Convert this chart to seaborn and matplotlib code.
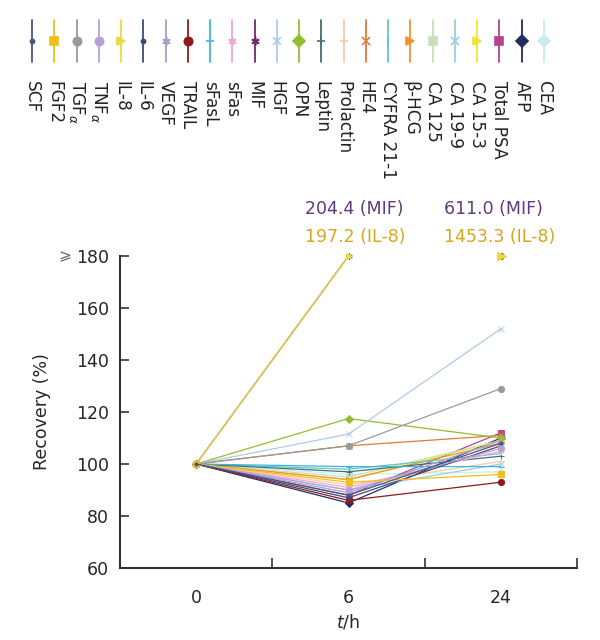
import matplotlib
matplotlib.use("Agg")
import matplotlib.pyplot as plt
import numpy as np
import pandas as pd
import seaborn as sns

# data (recovery %, at 0 / 6 / 24 h)
names = ['SCF', 'FGF2', r'TGF$_\alpha$', r'TNF$_\alpha$', 'IL-8', 'IL-6', 'VEGF', 'TRAIL',
         'sFasL', 'sFas', 'MIF', 'HGF', 'OPN', 'Leptin', 'Prolactin', 'HE4',
         'CYFRA 21-1', 'β-HCG', 'CA 125', 'CA 19-9', 'CA 15-3', 'Total PSA', 'AFP', 'CEA']
times = ['0', '6', '24']
rec_0h = [100] * 24
rec_6h = [88, 93, 107, 90, 197.2, 87, 89, 86, 99, 91, 204.4, 111.5,
          117.5, 97, 92, 107, 98, 94, 95, 90, 94, 88, 85, 96]
rec_24h = [108, 96, 129, 106, 1453.3, 107, 109, 93, 99, 105, 611.0, 152,
           110, 103, 101, 111, 104, 108, 109, 100, 109, 112, 110, 97]
y_cap = 180  # values above this are drawn at the top of the axis

colors = ['#4A5480', '#F2BE1A', '#9A9A9A', '#B7A0D8', '#EADB3A', '#3E4A7C', '#A49FCC', '#8E1B1B',
          '#3CB6DD', '#F2A6CF', '#6F2A6E', '#AFCBEA', '#93BD2E', '#3F7377', '#F7CBA8', '#E27B3A',
          '#63C6C4', '#F39327', '#C6E1B8', '#9ACFE0', '#F0E42E', '#B8448A', '#232C60', '#CCEBEE']
ast = (6, 2, 0)
markers = ['.', 's', 'o', 'o', '>', '.', ast, 'o',
           '_', ast, ast, 'x', 'D', '+', '+', 'x',
           '|', '>', 's', 'x', '>', 's', 'D', 'D']

sns.set_style("ticks")
plt.rcParams['font.family'] = ['DejaVu Sans']
plt.rcParams['text.color'] = '#222222'

# long table; a point after an already-capped point is drawn without a joining line
rows = []
for i, n in enumerate(names):
    prev_capped = False
    for t, v in zip(times, [rec_0h[i], rec_6h[i], rec_24h[i]]):
        rows.append({'marker': n, 't': t, 'rec': min(v, y_cap), 'alone': prev_capped})
        prev_capped = v > y_cap
df = pd.DataFrame(rows)
joined = df[~df['alone']]
alone = df[df['alone']]
pal = dict(zip(names, colors))
mk = dict(zip(names, markers))

# first series ends up on top, as in the original
draw_order = names[::-1]
lone_names = [n for n in draw_order if n in set(alone['marker'])]

fig = plt.figure(figsize=(6, 6.4), dpi=100)
ax = fig.add_axes([0.2, 0.1125, 0.7617, 0.4875])

sns.pointplot(data=joined, x='t', y='rec', hue='marker', order=times, hue_order=draw_order,
              palette=pal, markers=[mk[n] for n in draw_order], linestyles='-', dodge=False,
              errorbar=None, markersize=4.5, linewidth=0.9, legend=False,
              clip_on=False, ax=ax)
sns.pointplot(data=alone, x='t', y='rec', hue='marker', order=times, hue_order=lone_names,
              palette=pal, markers=[mk[n] for n in lone_names], linestyles='none',
              dodge=False, errorbar=None, markersize=4.5, legend=False,
              clip_on=False, ax=ax)

ax.set_xlim(-0.5, 2.5)
ax.set_ylim(60, 180)
ax.set_yticks(range(60, 181, 20))
ax.set_xticks([0, 1, 2])
ax.set_xticklabels(times)
ax.set_xticks([0.5, 1.5, 2.5], minor=True)
ax.tick_params(axis='x', which='major', length=0, pad=15, labelsize=12.5)
ax.tick_params(axis='x', which='minor', direction='in', length=7, width=1.2, color='#333333')
ax.tick_params(axis='y', direction='in', length=6.5, width=1.2, pad=8, labelsize=12.5,
               color='#333333')
for s in ['top', 'right']:
    ax.spines[s].set_visible(False)
for s in ['left', 'bottom']:
    ax.spines[s].set_linewidth(1.5)
    ax.spines[s].set_color('#333333')
ax.set_xlabel(r'$t$/h', fontsize=12.5, labelpad=4)
ax.set_ylabel('Recovery (%)', fontsize=12.5, labelpad=18)
ax.text(-0.12, 1.0, '⩾', transform=ax.transAxes, fontsize=11, color='#666666',
        ha='center', va='center')

# off-scale values written above the plot
ax.text(0.717, 198, '204.4 (MIF)', color='#5E3A7E', fontsize=12.5, va='center', clip_on=False)
ax.text(0.717, 187.5, '197.2 (IL-8)', color='#D9A521', fontsize=12.5, va='center', clip_on=False)
ax.text(1.63, 198, '611.0 (MIF)', color='#5E3A7E', fontsize=12.5, va='center', clip_on=False)
ax.text(1.63, 187.5, '1453.3 (IL-8)', color='#D9A521', fontsize=12.5, va='center', clip_on=False)

# legend strip along the top: vertical line + marker, rotated label
leg = fig.add_axes([0.0348, 1 - 200 / 640, 0.8903, 200 / 640])
leg.set_xlim(-0.5, len(names) - 0.5)
leg.set_ylim(200, 0)
leg.axis('off')
for i, n in enumerate(names):
    leg.plot([i, i], [20, 62], color=colors[i], lw=1.3)
    leg.plot(i, 41, marker=markers[i], color=colors[i], ms=6, mew=1.2)
    leg.text(i, 81, n, rotation=270, ha='center', va='top', fontsize=12.2)

fig.savefig('out.png', dpi=100)
